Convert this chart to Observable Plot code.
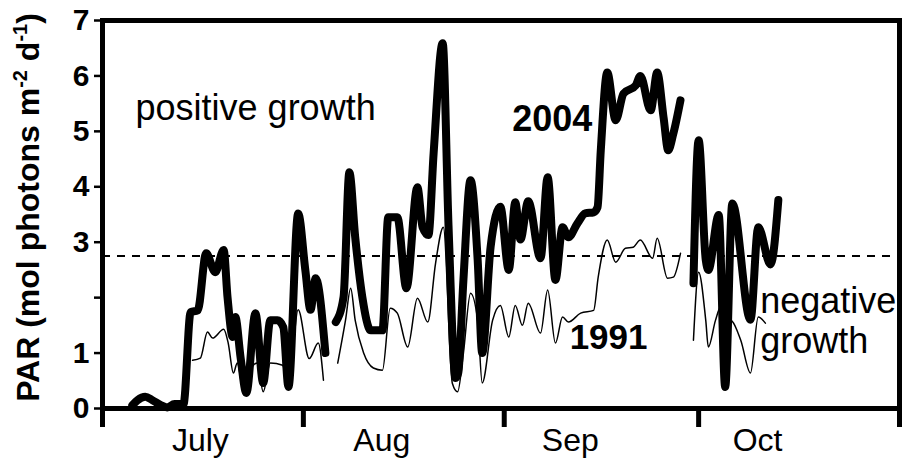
<!DOCTYPE html>
<html>
<head>
<meta charset="utf-8">
<script src="https://cdn.jsdelivr.net/npm/d3@7"></script>
<script src="https://cdn.jsdelivr.net/npm/@observablehq/plot@0.6"></script>
<style>
  html, body { margin: 0; padding: 0; background: white; }
</style>
</head>
<body>
<script>
// Days since 1 July (x) and PAR values (mol photons m-2 d-1); NaN marks gaps
const days2004 = [4.6,5.4,6.6,7.7,9.0,10.0,11.1,12.5,13.6,14.7,16.0,17.4,18.7,19.3,20.1,20.5,21.3,22.2,23.6,24.8,25.9,27.0,27.9,28.7,30.2,31.3,32.1,32.9,34.4,
  35.2,
  36.0,37.2,38.1,39.0,40.1,41.4,43.2,44.1,45.5,46.9,48.6,49.4,50.3,51.1,52.5,53.4,54.5,54.9,55.7,56.8,57.9,58.6,59.9,61.4,62.7,63.7,64.5,65.7,67.6,68.7,69.9,71.0,71.9,73.3,74.5,75.8,76.4,76.9,77.9,79.2,80.4,82.3,83.0,84.6,85.6,86.6,87.3,88.1,89.2,
  90.2,
  91.2,92.0,93.1,93.5,95.1,96.1,97.2,100.0,101.2,103.1,104.3];
const par2004 = [0.06,0.15,0.21,0.15,0.06,0.02,0.08,0.08,1.74,1.77,2.80,2.46,2.86,2.0,1.29,1.65,0.93,0.28,1.72,0.46,1.59,1.59,1.47,0.39,3.52,2.50,1.78,2.35,1.0,
  NaN,
  1.56,2.01,4.26,3.09,2.01,1.41,1.41,3.45,3.45,2.17,3.99,3.27,3.13,4.60,6.59,3.3,0.55,0.64,2.32,4.12,2.68,1.0,2.92,3.64,2.50,3.72,3.05,3.74,2.71,4.17,2.32,3.27,3.09,3.34,3.52,3.54,3.63,4.66,6.06,5.20,5.68,5.83,6.0,5.38,6.06,5.24,4.66,4.96,5.56,
  NaN,
  2.26,4.84,2.68,2.50,3.49,0.39,3.70,1.60,3.27,2.6,3.76];

const days1991 = [13.9,15.1,16.2,17.0,18.7,19.4,20.2,20.8,21.8,22.8,23.9,24.8,25.9,27.8,28.7,30.2,31.9,33.3,34.1,
  35.2,
  36.3,37.5,38.3,39.0,40.3,41.8,43.2,44.4,45.5,47.1,48.6,50.2,51.4,52.6,54.0,54.8,55.7,56.8,57.9,58.6,60.2,61.4,62.7,63.7,64.8,65.7,67.6,68.7,69.9,71.0,71.9,73.8,75.8,76.5,77.9,79.2,80.7,81.9,83.0,84.9,85.6,87.2,88.1,89.2,
  90.2,
  91.2,92.0,93.1,93.5,94.6,95.4,96.1,96.9,98.5,100.0,101.2,102.3];
const par1991 = [0.87,0.91,1.38,1.27,1.43,1.18,0.64,0.82,0.28,0.69,0.82,0.30,0.82,0.78,0.39,1.78,0.9,1.18,0.51,
  NaN,
  0.82,1.59,2.17,1.59,1.0,0.73,0.69,1.81,1.72,1.11,1.99,1.56,2.62,3.27,0.45,0.30,1.0,2.08,1.59,0.46,1.59,1.86,1.29,1.86,1.50,1.90,1.36,2.14,1.18,1.65,1.56,1.72,1.77,2.37,3.04,2.64,2.89,2.91,3.04,2.71,3.07,2.35,2.37,2.80,
  NaN,
  1.23,2.46,1.59,1.11,1.59,1.83,0.33,1.59,1.23,0.64,1.65,1.54];

const threshold = [2.75];
const yTicks = [0,1,2,3,4,5,6,7];
const monthStarts = [0,31,62,92,123];
const monthLabels = ["July","Aug","Sep","Oct"];
const labelDays = [15.1,43.1,72.2,101.1];
const yTitle = "PAR (mol photons m-2 d-1)";

const data2004 = days2004.map((d,i) => ({day:d, par:par2004[i]}));
const data1991 = days1991.map((d,i) => ({day:d, par:par1991[i]}));

const font = "'Liberation Sans', Arial, Helvetica, sans-serif";

const chart = Plot.plot({
  width: 902,
  height: 460,
  marginLeft: 102,
  marginRight: 3,
  marginTop: 20,
  marginBottom: 52,
  x: {domain: [0,123], axis: null},
  y: {domain: [0,7], axis: null},
  style: {fontFamily: font, background: "white", color: "black", overflow: "visible"},
  marks: [
    Plot.ruleY(threshold, {stroke: "black", strokeWidth: 2, strokeDasharray: "8,7"}),
    Plot.line(data1991, {x: "day", y: "par", stroke: "black", strokeWidth: 1.5, curve: "monotone-x"}),
    Plot.line(data2004, {x: "day", y: "par", stroke: "black", strokeWidth: 8, strokeLinejoin: "round", strokeLinecap: "round", curve: "monotone-x"}),
    Plot.frame({stroke: "black", strokeWidth: 5}),
    Plot.axisY({ticks: yTicks, label: null, tickSize: 8, tickPadding: 5, strokeWidth: 2.5,
      tickFormat: d => d === 2 ? "" : String(d), fontSize: 30, fontWeight: "bold"}),
    Plot.axisX({ticks: monthStarts, label: null, tickSize: 19, strokeWidth: 5, tickFormat: () => ""}),
    Plot.axisX({ticks: labelDays, label: null, tickSize: 0, tickPadding: 20,
      tickFormat: d => monthLabels[labelDays.indexOf(d)], fontSize: 32}),
    Plot.text([yTitle], {frameAnchor: "left", textAnchor: "middle", rotate: -90, dx: -74, dy: -7, fontSize: 32, fontWeight: "bold"}),
    Plot.text(["positive growth"], {x: 5.1, y: 5.41, textAnchor: "start", fontSize: 36}),
    Plot.text(["2004"], {x: 69.4, y: 5.21, fontSize: 36, fontWeight: "bold"}),
    Plot.text(["1991"], {x: 78.1, y: 1.28, fontSize: 35, fontWeight: "bold"}),
    Plot.text(["negative\ngrowth"], {x: 101.5, y: 1.59, textAnchor: "start", fontSize: 36, lineHeight: 1.11})
  ]
});

// superscripts in the y-axis title
chart.querySelectorAll("text").forEach(t => {
  if (t.textContent === yTitle) {
    t.textContent = "";
    const ns = "http://www.w3.org/2000/svg";
    const parts = [["PAR (mol photons m", 0, null], ["-2", -12, 20], [" d", 12, null], ["-1", -12, 20], [")", 12, null]];
    parts.forEach(([s, dy, fs]) => {
      const ts = document.createElementNS(ns, "tspan");
      ts.textContent = s;
      if (dy) ts.setAttribute("dy", dy);
      if (fs) ts.setAttribute("font-size", fs);
      t.appendChild(ts);
    });
  }
});

document.body.appendChild(chart);
</script>
</body>
</html>
